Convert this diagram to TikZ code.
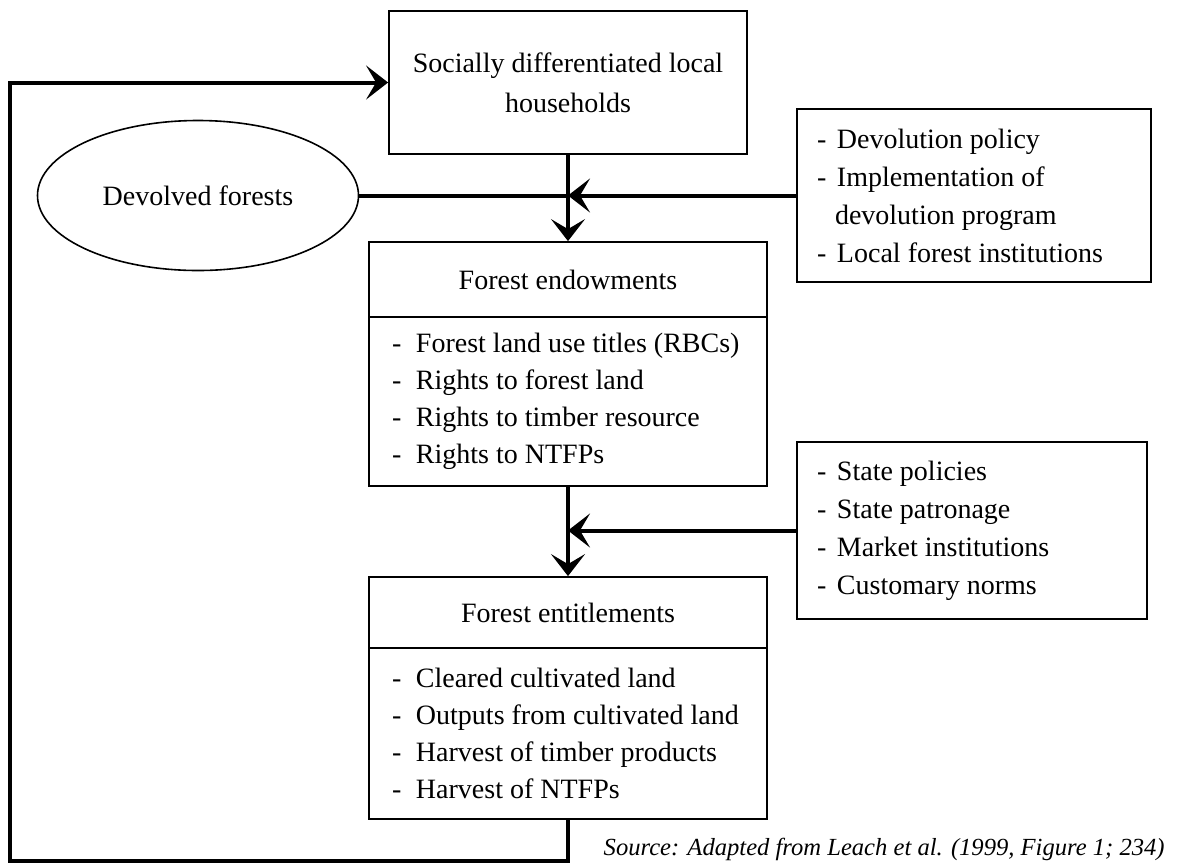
\documentclass[tikz,border=0pt]{standalone}
\usepackage{fontspec}
\setmainfont{Liberation Serif}
\usetikzlibrary{arrows.meta,shapes.geometric}
\newcommand\mitem[1]{\mbox{\makebox[12pt][l]{-}#1}}
\newcommand\sitem[1]{\mbox{\makebox[10pt][l]{-}#1}}
\begin{document}
\begin{tikzpicture}[x=0.5pt,y=-0.5pt,
  box/.style={draw,line width=0.9pt,rectangle,inner sep=0pt,font=\fontsize{14}{18.5}\selectfont},
  headbox/.style={box,minimum width=199pt},
  listbox/.style={box,minimum width=199pt,text width=176pt,inner xsep=11.5pt,align=flush left},
  sidebox/.style={box,inner xsep=10pt,align=flush left,font=\fontsize{14}{19}\selectfont},
  conn/.style={line width=2pt},
  arr/.style={-{Stealth[length=11pt,width=17pt,inset=5pt]}}]
\useasboundingbox (0,0) rectangle (1180,864);
% nodes
\node[box,minimum width=179pt,minimum height=71.5pt,align=center,font=\fontsize{14}{20}\selectfont] (top) at (568,82.5) {Socially differentiated local\\households};
\node[draw,ellipse,line width=0.8pt,minimum width=160.5pt,minimum height=75pt,inner sep=0pt,font=\fontsize{14}{18}\selectfont] (dev) at (198,195.5) {Devolved forests};
\node[sidebox,minimum width=177pt,minimum height=86.5pt,text width=157pt] (rb1) at (974,195.5) {\sitem{Devolution policy}\\\sitem{Implementation of}\\\mbox{\hspace*{9pt}devolution program}\\\sitem{Local forest institutions}};
\node[headbox,minimum height=37.5pt] (mhead) at (568,279.5) {Forest endowments};
\node[listbox,minimum height=84.5pt] (mlist) at (568,401.5) {\mitem{Forest land use titles (RBCs)}\\\mitem{Rights to forest land}\\\mitem{Rights to timber resource}\\\mitem{Rights to NTFPs}};
\node[sidebox,minimum width=175pt,minimum height=88.5pt,text width=155pt] (rb2) at (972,530.5) {\sitem{State policies}\\\sitem{State patronage}\\\sitem{Market institutions}\\\sitem{Customary norms}};
\node[headbox,minimum height=35.5pt] (bhead) at (568,612.5) {Forest entitlements};
\node[listbox,minimum height=85.5pt] (blist) at (568,733.5) {\mitem{Cleared cultivated land}\\\mitem{Outputs from cultivated land}\\\mitem{Harvest of timber products}\\\mitem{Harvest of NTFPs}};
\node[anchor=east,inner sep=0pt,font=\fontsize{12.3}{14}\selectfont\itshape] (src) at (1165,849) {Source: Adapted from Leach et al. (1999, Figure 1; 234)};
% junctions and loop corners
\coordinate (j1) at (568,195.5);
\coordinate (j2) at (568,530.5);
\coordinate (c1) at (568,861);
\coordinate (c2) at (10,861);
\coordinate (c3) at (10,82.5);
% connectors
\draw[conn] (dev.east) -- (j1);
\draw[conn,arr] (rb1.west) -- (j1);
\draw[conn,arr] (top.south) -- (mhead.north);
\draw[conn,arr] (rb2.west) -- (j2);
\draw[conn,arr] (mlist.south) -- (bhead.north);
\draw[conn,arr] (blist.south) -- (c1) -- (c2) -- (c3) -- (top.west);
\end{tikzpicture}
\end{document}
